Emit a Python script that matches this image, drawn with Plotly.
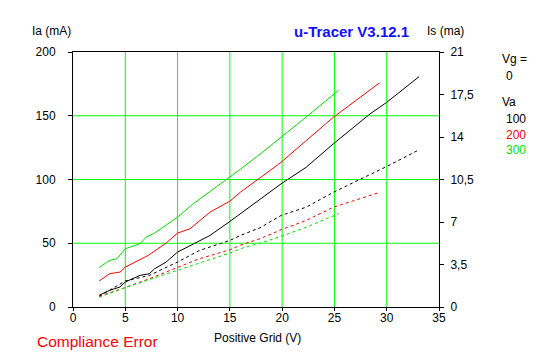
import plotly.graph_objects as go

# ---- data ----
x_ia_100 = [2.5, 3.5, 4.5, 5.0, 6.4, 7.3, 7.8, 8.9, 10.0, 11.5, 13.1, 15.0, 16.0, 17.9, 19.9, 22.3, 24.9, 28.4, 30.0, 33.1]
ia_100 = [9.2, 13.1, 15.7, 19.6, 24.8, 26.1, 30.0, 35.2, 43.1, 49.6, 56.1, 67.1, 73.1, 84.1, 96.6, 109.6, 128.0, 151.4, 160.5, 180.7]

x_ia_200 = [2.5, 3.5, 4.5, 5.0, 7.2, 8.0, 8.9, 10.0, 11.2, 13.1, 15.0, 16.0, 17.9, 19.9, 22.3, 24.9, 29.3]
ia_200 = [20.4, 26.1, 27.4, 31.3, 40.5, 44.9, 50.1, 58.0, 61.4, 74.4, 83.0, 90.0, 101.8, 113.5, 130.5, 148.8, 175.7]

x_ia_300 = [2.5, 3.5, 4.2, 5.0, 6.4, 7.0, 7.8, 10.0, 11.5, 15.0, 16.0, 17.9, 19.9, 22.3, 25.4]
ia_300 = [30.9, 36.5, 37.9, 45.7, 49.6, 54.8, 58.0, 70.5, 81.0, 101.8, 108.0, 120.0, 133.0, 149.0, 170.0]

x_is_100 = [2.5, 5.0, 7.3, 8.3, 10.0, 12.1, 15.0, 16.0, 17.9, 19.9, 22.3, 24.9, 30.0, 33.1]
is_100 = [0.88, 2.14, 2.60, 3.01, 3.70, 4.66, 5.48, 5.89, 6.53, 7.54, 8.22, 9.45, 11.57, 12.95]

x_is_200 = [2.5, 5.0, 7.3, 10.0, 12.1, 15.0, 16.0, 17.9, 19.9, 22.3, 24.9, 29.1]
is_200 = [0.88, 1.60, 2.33, 3.29, 3.98, 4.71, 5.09, 5.63, 6.36, 7.13, 8.22, 9.38]

x_is_300 = [2.5, 5.0, 7.3, 10.0, 12.1, 15.0, 16.0, 17.9, 19.9, 22.3, 25.4]
is_300 = [0.80, 1.60, 2.26, 3.01, 3.62, 4.44, 4.80, 5.26, 5.82, 6.57, 7.68]

x_ticks = [0, 5, 10, 15, 20, 25, 30, 35]
y_ticks = [0, 50, 100, 150, 200]
y2_ticks = [0, 3.5, 7, 10.5, 14, 17.5, 21]
y2_ticktext = ["0", "3,5", "7", "10,5", "14", "17,5", "21"]

va_labels = ["100", "200", "300"]
colors = ["#000000", "#FF0000", "#00E000"]

FONT = "Liberation Sans"
GRID = "#00FF00"

W, H = 547, 357
L, R, T, B = 73, 108, 52, 50
PW, PH = W - L - R, H - T - B

def px(x):
    return (x - L) / PW

def py(y):
    return 1 - (y - T) / PH

fig = go.Figure()

# green grid lines drawn as shapes from the tick arrays
for xv in x_ticks[1:-1]:
    fig.add_shape(type="line", xref="x", yref="paper", x0=xv, x1=xv, y0=0, y1=1,
                  line=dict(color=GRID, width=1), layer="below")
for yv in y_ticks[1:-1]:
    fig.add_shape(type="line", xref="paper", yref="y", x0=0, x1=1, y0=yv, y1=yv,
                  line=dict(color=GRID, width=1), layer="below")

for xs, ys, c in [(x_ia_100, ia_100, colors[0]), (x_ia_200, ia_200, colors[1]), (x_ia_300, ia_300, colors[2])]:
    fig.add_trace(go.Scatter(x=xs, y=ys, mode="lines", line=dict(color=c, width=1), yaxis="y", showlegend=False))
for xs, ys, c in [(x_is_100, is_100, colors[0]), (x_is_200, is_200, colors[1]), (x_is_300, is_300, colors[2])]:
    fig.add_trace(go.Scatter(x=xs, y=ys, mode="lines", line=dict(color=c, width=1, dash="3px,3px"), yaxis="y2", showlegend=False))

fig.update_layout(
    width=W, height=H,
    margin=dict(l=L, r=R, t=T, b=B),
    paper_bgcolor="white", plot_bgcolor="white",
    font=dict(family=FONT, size=11, color="black"),
    xaxis=dict(range=[0, 35], tickvals=x_ticks, showgrid=False,
               zeroline=False, showline=True, linecolor="black", linewidth=1, mirror=True,
               ticks="outside", ticklen=3, tickcolor="black", tickfont=dict(size=12), automargin=False,
               ticklabelstandoff=-3),
    yaxis=dict(range=[0, 200], tickvals=y_ticks, showgrid=False,
               zeroline=False, showline=True, linecolor="black", linewidth=1,
               ticks="outside", ticklen=4, tickcolor="black", tickfont=dict(size=12),
               ticklabelstandoff=10, automargin=False),
    yaxis2=dict(range=[0, 21], tickvals=y2_ticks, ticktext=y2_ticktext, overlaying="y", side="right",
                showgrid=False, zeroline=False, showline=True, linecolor="black", linewidth=1,
                ticks="outside", ticklen=4, tickcolor="black", tickfont=dict(size=12),
                ticklabelstandoff=4, automargin=False),
)

ann = [
    dict(text="Ia (mA)", x=30, y=31, xanchor="left"),
    dict(text="Is (ma)", x=425, y=31, xanchor="left"),
    dict(text="Positive Grid (V)", x=257, y=338, xanchor="center"),
    dict(text="Vg =", x=500, y=59, xanchor="left"),
    dict(text="0", x=504, y=76, xanchor="left"),
    dict(text="Va", x=500, y=102, xanchor="left"),
]
for a in ann:
    fig.add_annotation(xref="paper", yref="paper", showarrow=False,
                       x=px(a["x"]), y=py(a["y"]),
                       xanchor=a["xanchor"], yanchor="middle", text=a["text"],
                       font=dict(family=FONT, size=12, color="black"))
for i, (lab, c) in enumerate(zip(va_labels, colors)):
    yy = 119 + 15.5 * i
    fig.add_annotation(xref="paper", yref="paper", showarrow=False,
                       x=px(504), y=py(yy), xanchor="left", yanchor="middle",
                       text=lab, font=dict(family=FONT, size=12, color=c))

fig.add_annotation(xref="paper", yref="paper", showarrow=False,
                   x=px(292), y=py(31), xanchor="left", yanchor="middle",
                   text="<b>u-Tracer V3.12.1</b>", font=dict(family=FONT, size=15, color="#1010FF"))
fig.add_annotation(xref="paper", yref="paper", showarrow=False,
                   x=px(35), y=py(341), xanchor="left", yanchor="middle",
                   text="Compliance Error", font=dict(family=FONT, size=15.5, color="#FF0000"))

fig.write_html("out.html", config={"displayModeBar": False},
               post_script="document.body.style.margin='0';document.body.style.overflow='hidden';")
